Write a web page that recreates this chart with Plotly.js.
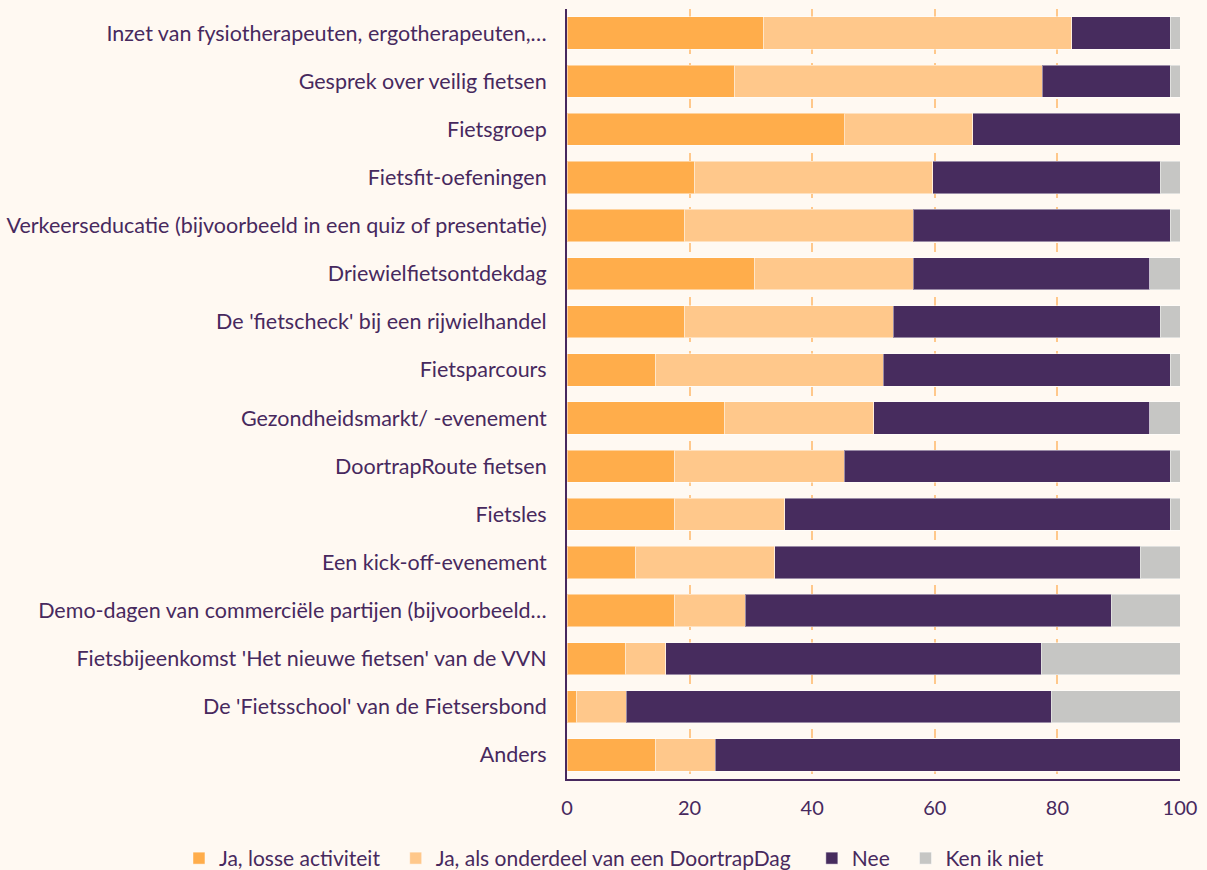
<!DOCTYPE html>
<html>
<head>
<meta charset="utf-8">
<script src="https://cdn.plot.ly/plotly-3.0.1.min.js"></script>
<style>html,body{margin:0;padding:0;background:#FFF9F2;}#chart{width:1207px;height:870px;}</style>
</head>
<body>
<div id="chart"></div>
<script>
const categories = [
  "Inzet van fysiotherapeuten, ergotherapeuten,…",
  "Gesprek over veilig fietsen",
  "Fietsgroep",
  "Fietsfit-oefeningen",
  "Verkeerseducatie (bijvoorbeeld in een quiz of presentatie)",
  "Driewielfietsontdekdag",
  "De 'fietscheck' bij een rijwielhandel",
  "Fietsparcours",
  "Gezondheidsmarkt/ -evenement",
  "DoortrapRoute fietsen",
  "Fietsles",
  "Een kick-off-evenement",
  "Demo-dagen van commerciële partijen (bijvoorbeeld…",
  "Fietsbijeenkomst 'Het nieuwe fietsen' van de VVN",
  "De 'Fietsschool' van de Fietsersbond",
  "Anders"
];
const seriesNames = ["Ja, losse activiteit", "Ja, als onderdeel van een DoortrapDag", "Nee", "Ken ik niet"];
const jaLosse    = [32.1, 27.4, 45.2, 20.8, 19.2, 30.6, 19.2, 14.5, 25.7, 17.6, 17.6, 11.2, 17.6, 9.6, 1.6, 14.5];
const jaDoortrap = [50.2, 50.1, 21.0, 38.9, 37.3, 25.9, 34.0, 37.1, 24.3, 27.6, 17.9, 22.7, 11.5, 6.5, 8.1, 9.7];
const nee        = [16.1, 20.9, 33.8, 37.1, 41.9, 38.6, 43.6, 46.8, 45.1, 53.2, 62.9, 59.6, 59.7, 61.3, 69.3, 75.8];
const kenIkNiet  = [1.6, 1.6, 0.0, 3.2, 1.6, 4.9, 3.2, 1.6, 4.9, 1.6, 1.6, 6.5, 11.2, 22.6, 21.0, 0.0];
const xTicks = [0, 20, 40, 60, 80, 100];

const colors = ["#FFAD4B", "#FFC88B", "#472C5E", "#C6C6C4"];
const values = [jaLosse, jaDoortrap, nee, kenIkNiet];
const ink = "#47295E";
// extra non-breaking spaces widen the gap between legend entries
const legendPad = ["\u00a0\u00a0", "\u00a0\u00a0\u00a0", "\u00a0\u00a0", ""];

const traces = values.map((v, i) => ({
  type: "bar",
  orientation: "h",
  name: seriesNames[i] + legendPad[i],
  y: categories,
  x: v,
  marker: {color: colors[i], line: {color: "rgba(255,255,255,0.45)", width: 1}},
  hovertemplate: "%{y}<br>" + seriesNames[i] + ": %{x}<extra></extra>"
}));

const layout = {
  barmode: "stack",
  bargap: 0.33,
  paper_bgcolor: "#FFF9F2",
  plot_bgcolor: "#FFF9F2",
  font: {family: "Lato, sans-serif", color: ink, size: 21},
  margin: {l: 567, r: 27, t: 9, b: 91, pad: 0, autoexpand: false},
  xaxis: {
    range: [0, 100],
    tickvals: xTicks,
    ticktext: xTicks.map(String),
    showgrid: true,
    gridcolor: "#FFC88B",
    griddash: "dash",
    gridwidth: 1.5,
    zeroline: false,
    showline: true,
    linecolor: ink,
    linewidth: 2,
    ticks: "",
    ticklabelstandoff: 10,
    tickfont: {size: 20, color: ink},
    automargin: false,
    fixedrange: true
  },
  yaxis: {
    autorange: "reversed",
    type: "category",
    showline: true,
    linecolor: ink,
    linewidth: 2,
    showgrid: false,
    ticks: "",
    ticklabelstandoff: 14,
    tickfont: {size: 21.5, color: ink},
    automargin: false,
    fixedrange: true
  },
  showlegend: true,
  legend: {
    orientation: "h",
    xref: "paper",
    yref: "paper",
    x: -0.633,
    xanchor: "left",
    y: -0.0766,
    yanchor: "top",
    font: {size: 21, color: ink},
    traceorder: "normal",
    itemwidth: 30,
    bgcolor: "rgba(0,0,0,0)"
  }
};

Plotly.newPlot("chart", traces, layout, {displayModeBar: false, responsive: false});
</script>
</body>
</html>
